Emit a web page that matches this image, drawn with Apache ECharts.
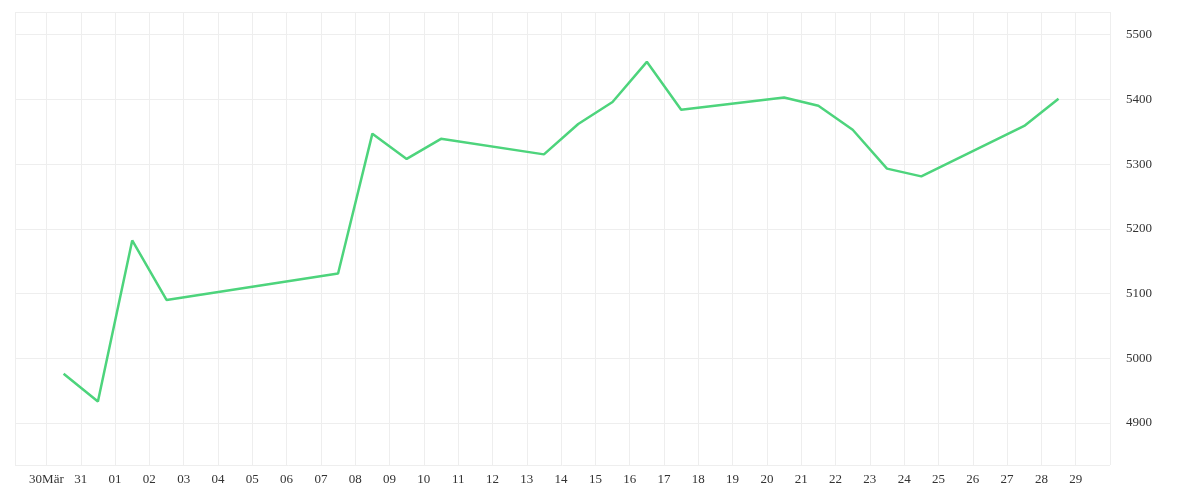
<!DOCTYPE html>
<html><head><meta charset="utf-8">
<script src="https://cdn.jsdelivr.net/npm/echarts@6/dist/echarts.min.js"></script>
<style>html,body{margin:0;background:#fff}#c{width:1200px;height:500px}</style>
</head><body><div id="c"></div>
<script>
var dates = ['2024-03-30','2024-03-31','2024-04-01','2024-04-02','2024-04-07','2024-04-08','2024-04-09','2024-04-10','2024-04-13','2024-04-14','2024-04-15','2024-04-16','2024-04-17','2024-04-20','2024-04-21','2024-04-22','2024-04-23','2024-04-24','2024-04-27','2024-04-28'];
var values = [4976,4933,5182,5090,5131,5347,5308,5339,5315,5362,5396,5458,5384,5403,5390,5353,5293,5281,5359,5401];

var data = [];
for (var i = 0; i < dates.length; i++) {
	data.push([dates[i] + 'T12:00:00', values[i]]);
}
var chart = echarts.init(document.getElementById('c'));
chart.setOption({
	animation: false,
	textStyle: { fontFamily: 'Liberation Serif' },
	grid: { left: 15, right: 90, top: 12, bottom: 35 },
	xAxis: {
		type: 'time',
		min: '2024-03-29T02:00:00',
		max: '2024-04-30T00:00:00',
		minInterval: 86400000,
		maxInterval: 86400000,
		axisLine: { show: false },
		axisTick: { show: false },
		splitLine: { show: true, lineStyle: { color: '#eeeeee' } },
		axisLabel: {
			color: '#333', fontSize: 13, showMaxLabel: false,
			formatter: function(v) {
				var d = new Date(v);
				if (d.getMonth() === 3 && d.getDate() === 30) return '';
				var dd = ('0' + d.getDate()).slice(-2);
				if (d.getMonth() === 2 && d.getDate() === 30) return dd + 'Mär';
				return dd;
			}
		}
	},
	yAxis: {
		type: 'value',
		position: 'right',
		min: 4835, max: 5535,
		axisLine: { show: false },
		axisTick: { show: false },
		splitLine: { lineStyle: { color: '#eeeeee' } },
		axisLabel: {
			color: '#333', fontSize: 13, margin: 16, showMinLabel: false, showMaxLabel: false,
			formatter: function(v) { return String(v); }
		}
	},
	series: [{
		type: 'line',
		data: data,
		showSymbol: false,
		lineStyle: { color: '#4dd47c', width: 2.5 },
		itemStyle: { color: '#4dd47c' }
	}]
});
</script></body></html>
